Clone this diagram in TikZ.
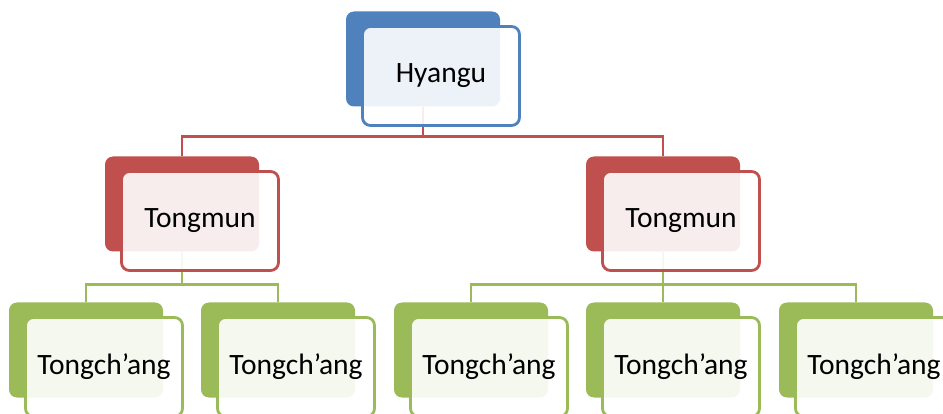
\documentclass[tikz,border=0pt]{standalone}
\usepackage{fontspec}
\setmainfont{Carlito}
\usepackage{xcolor}
\usepackage{tikz}
\usetikzlibrary{positioning, backgrounds}

\definecolor{hblue}{HTML}{4F81BD}
\definecolor{tred}{HTML}{C0504D}
\definecolor{cgreen}{HTML}{9BBB59}

\begin{document}
\begin{tikzpicture}[x=1pt, y=-1pt,
  backbox/.style={rectangle, rounded corners=8pt, fill=#1, minimum width=154pt, minimum height=95pt},
  frontbox/.style={rectangle, rounded corners=8pt, draw=#1, line width=2.8pt, fill=white, fill opacity=0.9, text opacity=1, minimum width=157pt, minimum height=99pt, font=\fontsize{29.5}{32}\selectfont},
  link/.style={line width=2.8pt, draw=#1}
]
  \clip (0,0) rectangle (943,414);

  \node[backbox=hblue] (hb) at (423,59) {};
  \node[frontbox=hblue] (h) at (441,76) {Hyangu};

  \node[backbox=tred] (tlb) at (182,204) {};
  \node[frontbox=tred] (tl) at (200,221) {Tongmun};
  \node[backbox=tred] (trb) at (663,204) {};
  \node[frontbox=tred] (tr) at (681,221) {Tongmun};

  \node[backbox=cgreen] (c1b) at (86,350) {};
  \node[frontbox=cgreen] (c1) at (104,367) {Tongch'ang};
  \node[backbox=cgreen] (c2b) at (278,350) {};
  \node[frontbox=cgreen] (c2) at (296,367) {Tongch'ang};
  \node[backbox=cgreen] (c3b) at (471,350) {};
  \node[frontbox=cgreen] (c3) at (489,367) {Tongch'ang};
  \node[backbox=cgreen] (c4b) at (663,350) {};
  \node[frontbox=cgreen] (c4) at (681,367) {Tongch'ang};
  \node[backbox=cgreen] (c5b) at (856,350) {};
  \node[frontbox=cgreen] (c5) at (874,367) {Tongch'ang};

  % connectors sit behind the boxes
  \begin{scope}[on background layer]
    \draw[link=tred] (hb.south) -- ++(0,30) -| (tlb.north);
    \draw[link=tred] (hb.south) -- ++(0,30) -| (trb.north);

    \draw[link=cgreen] (tlb.south) -- ++(0,33) -| (c1b.north);
    \draw[link=cgreen] (tlb.south) -- ++(0,33) -| (c2b.north);
    \draw[link=cgreen] (trb.south) -- ++(0,33) -| (c3b.north);
    \draw[link=cgreen] (trb.south) -- (c4b.north);
    \draw[link=cgreen] (trb.south) -- ++(0,33) -| (c5b.north);
  \end{scope}
\end{tikzpicture}
\end{document}
